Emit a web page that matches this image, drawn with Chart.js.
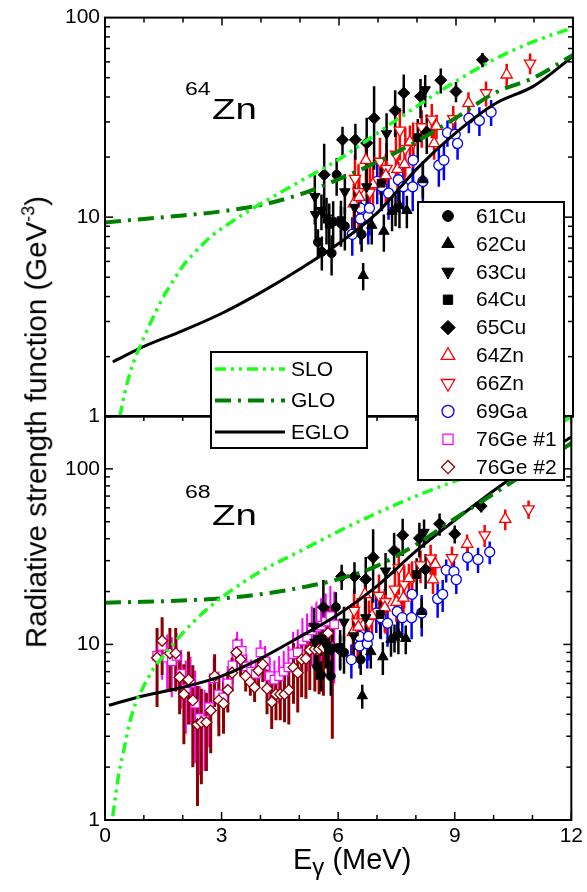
<!DOCTYPE html>
<html>
<head>
<meta charset="utf-8">
<script src="https://cdn.jsdelivr.net/npm/chart.js@4.4.1/dist/chart.umd.min.js"></script>
<style>
  body { margin: 0; background: #fff; }
  #wrap { position: relative; width: 587px; height: 892px; font-family: "Liberation Sans", Arial, sans-serif; color: #000; overflow: hidden; }
  #wrap canvas { position: absolute; left: 0; top: 0; }
  .txt { position: absolute; white-space: nowrap; line-height: 1; }
  .wide { transform-origin: 0 0; transform: scaleX(1.28); }
</style>
</head>
<body>
<div id="wrap">
  <canvas id="zn64Chart" width="587" height="892"></canvas>
  <canvas id="zn68Chart" width="587" height="892"></canvas>
  <div class="txt wide" style="left:185px; top:80px; font-size:18px;">64</div>
  <div class="txt wide" style="left:212px; top:94px; font-size:30px;">Zn</div>
  <div class="txt wide" style="left:185px; top:483px; font-size:18px;">68</div>
  <div class="txt wide" style="left:212px; top:500px; font-size:30px;">Zn</div>
  <div class="txt" style="left:36px; top:422px; font-size:29.5px; transform: translate(-50%,-50%) rotate(-90deg);">Radiative strength function (GeV<span style="font-size:18px; position:relative; top:-12px;">-3</span>)</div>
  <div class="txt" style="left:293px; top:845px; font-size:29px;">E<span style="font-size:24px; position:relative; top:6px;">γ</span> (MeV)</div>
</div>
<script>
// tick labels
const xLabels = [0, 3, 6, 9, 12];
const yLabels = [1, 10, 100];

// model curves, [E (MeV), f (GeV^-3)]
const sloZn64 = [[0.38, 1.0], [0.5, 1.3], [0.7, 1.8], [1.0, 2.5], [1.25, 3.2], [1.5, 4.0], [1.75, 4.8], [2.0, 5.7], [2.25, 6.5], [2.5, 7.3], [2.75, 8.1], [3.0, 8.8], [3.5, 10.2], [4.0, 11.7], [5.0, 15.1], [6.0, 19.5], [7.0, 26.5], [8.0, 36], [9.0, 48], [10.0, 62], [11.0, 76], [12.0, 89]];
const gloZn64 = [[0, 9.4], [1, 9.8], [2, 10.2], [3, 10.7], [4, 11.5], [5, 13.0], [6, 15.5], [7, 19.0], [8, 24.0], [9, 31.5], [10, 42], [11, 50], [12, 65]];
const egloZn64 = [[0.2, 1.88], [1, 2.25], [2, 2.7], [3, 3.3], [4, 4.2], [5, 5.5], [6, 7.4], [7, 10.6], [8, 17.5], [9, 26.5], [10, 37], [11, 45.5], [12, 64]];

const sloZn68 = [[0.2, 1.05], [0.35, 1.8], [0.5, 2.6], [0.65, 3.7], [0.8, 4.7], [1.0, 5.8], [1.25, 7.3], [1.5, 8.6], [2.0, 11.6], [2.5, 15.0], [3.0, 18.5], [4.0, 26], [5.0, 33.8], [6.0, 44], [7.0, 56], [8.0, 70], [9.0, 85], [10.0, 103], [11.0, 138], [12.0, 200]];
const gloZn68 = [[0, 17.3], [1, 17.5], [2, 17.8], [3, 18.3], [4, 19.3], [5, 21], [6, 23.5], [7, 28], [8, 37], [9, 52], [10, 72], [11, 100], [12, 140]];
const egloZn68 = [[0.1, 4.5], [1, 5.1], [2, 5.7], [3, 6.6], [4, 8.3], [5, 11], [6, 14.8], [7, 21.5], [8, 34], [9, 51], [10, 75], [11, 108], [12, 152]];

// measured points, [E, f, error]
const cu61 = [[5.46, 7.5, 1.2], [5.56, 6.7, 1.3], [5.81, 6.6, 1.5], [5.85, 9.5, 2.5], [5.94, 16.3, 3.5], [6.05, 9.3, 2.0], [6.15, 9.0, 2.2], [6.58, 8.2, 1.5]];
const cu62 = [[6.62, 5.1, 0.8], [6.84, 9.1, 1.8], [7.15, 8.5, 1.8], [7.36, 10.7, 2.2], [7.45, 11.0, 2.0], [7.55, 11.4, 2.6], [7.74, 10.8, 2.0], [8.15, 15.4, 3.0]];
const cu63 = [[5.38, 12.7, 3.5], [5.40, 10.3, 2.5], [5.55, 10.8, 2.2], [5.68, 9.9, 2.6], [6.15, 13.4, 3.0], [6.40, 11.2, 3.0], [6.71, 14.2, 3.5], [7.22, 26.2, 7.0], [8.21, 43.5, 8.0]];
const cu64 = [[5.75, 9.2, 2.5], [6.05, 9.6, 2.5], [7.08, 14.8, 4.0], [8.02, 25.0, 6.0]];
const cu65 = [[5.62, 16.3, 7.0], [6.09, 24.4, 4.0], [6.42, 24.4, 5.0], [6.71, 23.5, 8.0], [6.90, 31.3, 14.0], [7.44, 34.2, 9.0], [7.66, 41.9, 10.0], [8.09, 40.3, 9.0], [8.25, 26.7, 6.0], [8.61, 48.6, 7.0], [9.00, 42.6, 5.0], [9.68, 61.4, 5.0]];
const zn64 = [[6.38, 11.7, 3.0], [6.52, 12.6, 3.5], [6.69, 19.3, 5.0], [6.87, 14.6, 4.0], [7.20, 16.2, 4.5], [7.50, 17.4, 4.0], [7.68, 18.4, 4.0], [7.82, 23.8, 5.0], [8.44, 23.4, 4.0], [8.50, 28.6, 4.0], [9.32, 37.3, 5.0], [10.30, 51.7, 7.0]];
const zn66 = [[6.41, 15.6, 5.0], [6.50, 13.4, 5.0], [6.79, 13.3, 4.5], [7.05, 19.0, 6.0], [7.22, 17.5, 6.0], [7.46, 20.6, 6.0], [7.56, 27.2, 8.0], [7.70, 22.0, 6.0], [7.90, 23.8, 6.0], [8.12, 28.3, 6.0], [8.38, 30.9, 6.0], [8.93, 31.1, 5.0], [9.77, 41.9, 6.0], [10.90, 59.0, 7.0]];
const ga69 = [[6.34, 8.2, 1.8], [6.55, 9.8, 2.5], [6.55, 11.1, 2.8], [6.75, 10.1, 2.8], [6.78, 11.1, 3.0], [6.98, 15.1, 3.5], [7.10, 14.2, 3.5], [7.27, 13.2, 3.5], [7.52, 15.4, 3.5], [7.65, 14.2, 3.5], [7.89, 14.2, 3.5], [7.90, 19.3, 4.5], [8.15, 15.1, 4.0], [8.56, 18.2, 4.0], [8.69, 19.3, 4.0], [8.78, 26.5, 4.0], [8.98, 26.0, 4.0], [9.04, 23.4, 4.0], [9.33, 31.3, 5.0], [9.60, 30.5, 5.0], [9.90, 33.6, 5.0]];
const ge76a = [[1.34, 8.6, 3.5], [1.47, 9.8, 3.5], [1.60, 8.4, 3.0], [1.72, 8.0, 3.0], [1.84, 8.6, 3.0], [1.96, 6.8, 2.5], [2.08, 5.6, 2.5], [2.20, 6.0, 2.5], [2.32, 4.6, 2.5], [2.44, 3.8, 2.0], [2.56, 3.7, 1.8], [2.68, 4.4, 1.8], [2.80, 6.4, 2.0], [2.92, 5.2, 1.8], [3.04, 5.0, 1.5], [3.16, 6.0, 1.5], [3.28, 7.6, 1.6], [3.40, 10.0, 1.8], [3.52, 9.2, 1.6], [3.64, 7.5, 1.3], [3.76, 7.0, 1.2], [3.88, 6.8, 1.2], [4.00, 9.0, 1.6], [4.12, 8.0, 1.8], [4.24, 6.6, 1.8], [4.36, 6.3, 1.8], [4.48, 6.6, 2.0], [4.60, 7.0, 2.2], [4.72, 7.4, 2.4], [4.84, 8.8, 3.0], [4.96, 9.0, 3.2], [5.08, 10.5, 3.6], [5.20, 11.0, 4.0], [5.32, 12.0, 4.5], [5.44, 12.5, 5.0], [5.56, 12.8, 5.5], [5.68, 13.5, 6.0], [5.80, 14.5, 7.0], [5.90, 13.0, 7.0]];
const ge76b = [[1.34, 8.4, 4.0], [1.47, 10.5, 3.8], [1.67, 8.9, 3.5], [1.82, 8.9, 3.5], [1.92, 6.5, 2.5], [2.03, 5.2, 2.5], [2.15, 6.3, 2.8], [2.26, 4.8, 2.8], [2.38, 3.5, 2.3], [2.48, 3.6, 2.0], [2.61, 3.6, 1.7], [2.72, 4.2, 1.8], [2.82, 6.6, 2.2], [2.93, 4.8, 1.8], [3.05, 4.6, 1.5], [3.16, 5.5, 1.4], [3.27, 6.9, 1.5], [3.38, 9.0, 1.8], [3.49, 8.2, 1.6], [3.62, 6.6, 1.2], [3.74, 6.1, 1.0], [3.85, 5.7, 1.0], [3.95, 7.1, 1.3], [4.06, 7.7, 1.6], [4.17, 5.6, 1.6], [4.29, 4.7, 1.4], [4.40, 5.2, 1.5], [4.51, 5.2, 1.5], [4.62, 5.2, 1.6], [4.73, 5.5, 2.0], [4.85, 7.4, 2.8], [4.96, 6.9, 2.8], [5.06, 8.2, 3.2], [5.17, 8.3, 3.4], [5.27, 9.3, 3.8], [5.40, 9.4, 4.0], [5.51, 9.4, 4.2], [5.62, 9.6, 4.5], [5.74, 11.6, 5.0], [5.85, 9.7, 6.8]];

const FONT = '"Liberation Sans", Arial, sans-serif';
Chart.defaults.font.family = FONT;
Chart.defaults.color = '#000';

// marker looks, also used by the legend
const markerStyles = {
    cu61: { label: '61Cu', pointStyle: 'circle', pointRadius: 4.5, pointBackgroundColor: '#000', pointBorderColor: '#000', pointBorderWidth: 1, errColor: '#000' },
    cu62: { label: '62Cu', pointStyle: 'triangle', pointRadius: 6, pointBackgroundColor: '#000', pointBorderColor: '#000', pointBorderWidth: 1, errColor: '#000' },
    cu63: { label: '63Cu', pointStyle: 'triangle', pointRotation: 180, pointRadius: 6, pointBackgroundColor: '#000', pointBorderColor: '#000', pointBorderWidth: 1, errColor: '#000' },
    cu64: { label: '64Cu', pointStyle: 'rect', pointRadius: 5.5, pointBackgroundColor: '#000', pointBorderColor: '#000', pointBorderWidth: 1, errColor: '#000' },
    cu65: { label: '65Cu', pointStyle: 'rectRot', pointRadius: 6, pointBackgroundColor: '#000', pointBorderColor: '#000', pointBorderWidth: 1, errColor: '#000' },
    zn64: { label: '64Zn', pointStyle: 'triangle', pointRadius: 6.5, pointBackgroundColor: '#fff', pointBorderColor: '#ff0000', pointBorderWidth: 1.3, errColor: '#ff0000' },
    zn66: { label: '66Zn', pointStyle: 'triangle', pointRotation: 180, pointRadius: 6.5, pointBackgroundColor: '#fff', pointBorderColor: '#ff0000', pointBorderWidth: 1.3, errColor: '#ff0000' },
    ga69: { label: '69Ga', pointStyle: 'circle', pointRadius: 5, pointBackgroundColor: '#fff', pointBorderColor: '#0000ff', pointBorderWidth: 1.3, errColor: '#0000ff' },
    ge76a: { label: '76Ge #1', pointStyle: 'rect', pointRadius: 6, pointBackgroundColor: '#fff', pointBorderColor: '#ff00ff', pointBorderWidth: 1.2, errColor: '#ff00ff', errWidth: 2 },
    ge76b: { label: '76Ge #2', pointStyle: 'rectRot', pointRadius: 5.5, pointBackgroundColor: '#fff', pointBorderColor: '#8b0000', pointBorderWidth: 1.3, errColor: '#8b0000', errWidth: 3 }
};

const lineStyles = {
    slo: { label: 'SLO', borderColor: '#1aff1a', borderWidth: 3.5, borderDash: [11, 5, 3, 5, 3, 5] },
    glo: { label: 'GLO', borderColor: '#008000', borderWidth: 4, borderDash: [16, 7, 3, 7] },
    eglo: { label: 'EGLO', borderColor: '#000', borderWidth: 3, borderDash: [] }
};

function markerSet(arr, key, order) {
    return Object.assign({
        data: arr.map(p => ({ x: p[0], y: p[1] })),
        errs: arr.map(p => p[2]),
        showLine: false,
        order: order
    }, markerStyles[key]);
}

function curveSet(arr, key) {
    return Object.assign({
        data: arr.map(p => ({ x: p[0], y: p[1] })),
        showLine: true,
        pointRadius: 0,
        fill: false,
        cubicInterpolationMode: 'monotone',
        order: 0
    }, lineStyles[key]);
}

function commonSets() {
    return [
        markerSet(ga69, 'ga69', 6),
        markerSet(zn64, 'zn64', 5),
        markerSet(zn66, 'zn66', 5),
        markerSet(cu61, 'cu61', 4),
        markerSet(cu62, 'cu62', 4),
        markerSet(cu63, 'cu63', 4),
        markerSet(cu64, 'cu64', 4),
        markerSet(cu65, 'cu65', 4)
    ];
}

// vertical error bars, drawn under the markers
const errorBars = {
    id: 'errorBars',
    beforeDatasetsDraw(chart) {
        const { ctx, chartArea: a, scales: { x, y } } = chart;
        ctx.save();
        ctx.beginPath();
        ctx.rect(a.left, a.top, a.right - a.left, a.bottom - a.top);
        ctx.clip();
        chart.data.datasets.slice().sort((d1, d2) => d2.order - d1.order).forEach(ds => {
            if (!ds.errs) return;
            ctx.strokeStyle = ds.errColor;
            ctx.lineWidth = ds.errWidth || 2.5;
            ds.data.forEach((p, i) => {
                const px = x.getPixelForValue(p.x);
                const lo = Math.max(p.y - ds.errs[i], y.min);
                ctx.beginPath();
                ctx.moveTo(px, y.getPixelForValue(lo));
                ctx.lineTo(px, y.getPixelForValue(p.y + ds.errs[i]));
                ctx.stroke();
            });
        });
        ctx.restore();
    }
};

// frame with inward ticks
const frameTicks = {
    id: 'frameTicks',
    afterDatasetsDraw(chart, args, opts) {
        const { ctx, chartArea: a, scales: { x, y } } = chart;
        ctx.save();
        ctx.strokeStyle = '#000';
        ctx.lineWidth = 1.5;
        const seg = (x1, y1, x2, y2) => { ctx.beginPath(); ctx.moveTo(x1, y1); ctx.lineTo(x2, y2); ctx.stroke(); };
        for (let d = 1; d < y.max; d *= 10) {
            for (let m = 1; m < 10; m++) {
                const v = d * m;
                if (v < y.min || v > y.max) continue;
                const py = y.getPixelForValue(v);
                const len = m === 1 ? 8 : 5;
                seg(a.left, py, a.left + len, py);
                seg(a.right, py, a.right - len, py);
            }
        }
        for (let e = x.min; e <= x.max; e++) {
            const px = x.getPixelForValue(e);
            const len = xLabels.includes(e) ? 8 : 5;
            seg(px, a.top, px, a.top + len);
            if (opts.bottomTicks) seg(px, a.bottom, px, a.bottom - len);
        }
        ctx.lineWidth = 2;
        ctx.strokeRect(a.left, a.top, a.right - a.left, a.bottom - a.top);
        ctx.restore();
    }
};

// the two legend boxes, drawn on the upper canvas
const legendBoxes = {
    id: 'legendBoxes',
    afterDraw(chart) {
        const ctx = chart.ctx;
        ctx.save();
        ctx.font = '21px ' + FONT;
        ctx.textBaseline = 'middle';
        ctx.textAlign = 'left';
        function box(l, t, w, h) {
            ctx.fillStyle = '#fff';
            ctx.fillRect(l, t, w, h);
            ctx.strokeStyle = '#000';
            ctx.lineWidth = 2;
            ctx.setLineDash([]);
            ctx.strokeRect(l, t, w, h);
        }

        box(211, 352, 156, 96);
        ['slo', 'glo', 'eglo'].forEach((k, i) => {
            const s = lineStyles[k];
            const yy = 369 + i * 31.5;
            ctx.strokeStyle = s.borderColor;
            ctx.lineWidth = s.borderWidth;
            ctx.setLineDash(s.borderDash);
            ctx.beginPath();
            ctx.moveTo(215, yy);
            ctx.lineTo(285, yy);
            ctx.stroke();
            ctx.setLineDash([]);
            ctx.fillStyle = '#000';
            ctx.fillText(s.label, 291, yy + 1);
        });

        box(418, 202, 146, 278);
        Object.keys(markerStyles).forEach((k, i) => {
            const s = markerStyles[k];
            const yy = 216 + i * 27.9;
            ctx.fillStyle = s.pointBackgroundColor;
            ctx.strokeStyle = s.pointBorderColor;
            ctx.lineWidth = s.pointBorderWidth;
            Chart.helpers.drawPoint(ctx, {
                pointStyle: s.pointStyle,
                rotation: s.pointRotation || 0,
                radius: s.pointRadius * 1.2,
                borderWidth: s.pointBorderWidth
            }, 448, yy);
            ctx.fillStyle = '#000';
            ctx.fillText(s.label, 476, yy + 1);
        });
        ctx.restore();
    }
};

function yScale(max) {
    return {
        type: 'logarithmic',
        min: 1,
        max: max,
        position: 'left',
        grid: { display: false, drawTicks: false },
        border: { display: false },
        ticks: {
            autoSkip: false,
            padding: 5,
            font: { size: 21 },
            callback: v => yLabels.includes(v) ? String(v) : ''
        },
        afterFit: s => { s.width = 105; }
    };
}

new Chart(document.getElementById('zn64Chart'), {
    type: 'scatter',
    data: {
        datasets: [
            curveSet(sloZn64, 'slo'),
            curveSet(gloZn64, 'glo'),
            curveSet(egloZn64, 'eglo')
        ].concat(commonSets())
    },
    options: {
        responsive: false,
        animation: false,
        devicePixelRatio: 1,
        layout: { padding: { left: 0, right: 14, top: 14, bottom: 892 - 416.7 } },
        plugins: {
            legend: { display: false },
            tooltip: { enabled: false },
            frameTicks: { bottomTicks: false }
        },
        scales: {
            x: {
                type: 'linear', min: 0, max: 12, position: 'bottom',
                grid: { display: false, drawTicks: false },
                border: { display: false },
                ticks: { display: false },
                afterFit: s => { s.height = 0; }
            },
            y: yScale(100)
        }
    },
    plugins: [errorBars, frameTicks]
});

new Chart(document.getElementById('zn68Chart'), {
    type: 'scatter',
    data: {
        datasets: [
            curveSet(sloZn68, 'slo'),
            curveSet(gloZn68, 'glo'),
            curveSet(egloZn68, 'eglo')
        ].concat(commonSets(), [
            markerSet(ge76a, 'ge76a', 8),
            markerSet(ge76b, 'ge76b', 7)
        ])
    },
    options: {
        responsive: false,
        animation: false,
        devicePixelRatio: 1,
        layout: { padding: { left: 0, right: 14, top: 416, bottom: 0 } },
        plugins: {
            legend: { display: false },
            tooltip: { enabled: false },
            frameTicks: { bottomTicks: true }
        },
        scales: {
            x: {
                type: 'linear', min: 0, max: 12, position: 'bottom',
                grid: { display: false, drawTicks: false },
                border: { display: false },
                ticks: {
                    stepSize: 1,
                    autoSkip: false,
                    maxRotation: 0,
                    padding: 4,
                    font: { size: 21 },
                    callback: v => xLabels.includes(v) ? String(v) : ''
                },
                afterFit: s => { s.height = 72; }
            },
            y: yScale(200)
        }
    },
    plugins: [errorBars, frameTicks, legendBoxes]
});
</script>
</body>
</html>
